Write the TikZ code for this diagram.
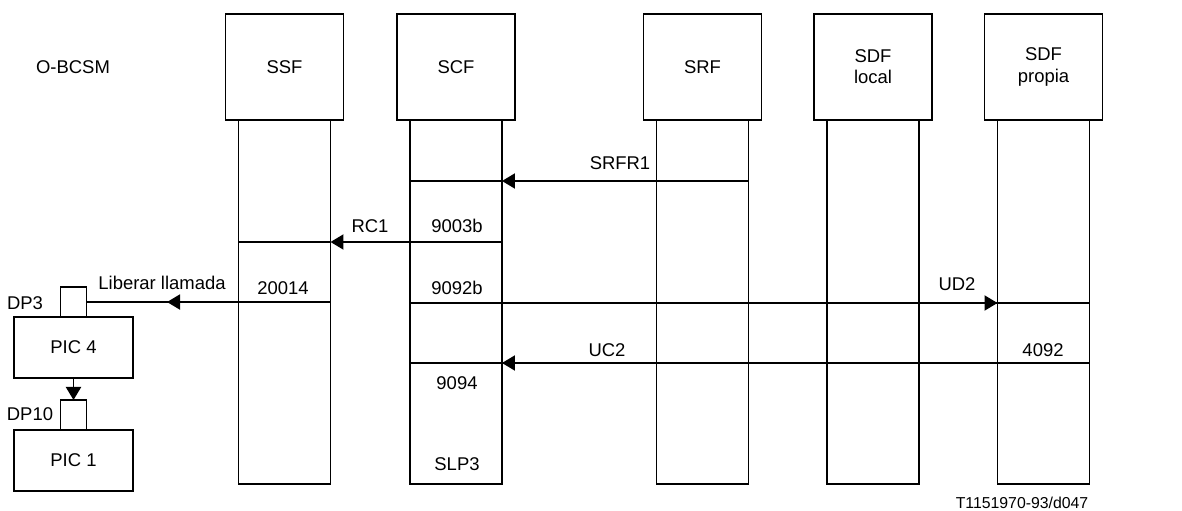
\documentclass[tikz,border=0pt]{standalone}
\usepackage{fontspec}
\setmainfont{Liberation Sans}
\usetikzlibrary{arrows.meta, positioning, calc}

\tikzset{
  head/.style={draw, line width=0.6pt, minimum width=2.36cm, minimum height=2.12cm,
    align=center, font=\fontsize{10.5}{12}\selectfont},
  life/.style={minimum width=1.84cm, minimum height=7.28cm, outer sep=0pt, inner sep=0pt},
  picbox/.style={draw, line width=0.6pt, minimum width=2.38cm, minimum height=1.22cm,
    outer sep=0pt, font=\fontsize{10.5}{12}\selectfont},
  dpbox/.style={draw, line width=0.6pt, minimum width=0.52cm, minimum height=0.6cm, outer sep=0pt},
  sep/.style={line width=1.1pt},
  msg/.style={line width=1.1pt, -{Triangle[length=2.6mm,width=3mm]}},
  lbl/.style={font=\fontsize{10.5}{12}\selectfont, inner sep=0pt},
}

\begin{document}
\begin{tikzpicture}[x=0.02cm, y=-0.02cm]
  \useasboundingbox (0,0) rectangle (1182,510);

  %% entity heads
  \node[lbl] (obcsm) at (73,67) {O-BCSM};
  \node[head] (ssf)   at (284.5,67)  {SSF};
  \node[head] (scf)   at (456,67)    {SCF};
  \node[head] (srf)   at (702.5,67)  {SRF};
  \node[head] (sdfl)  at (873,67)    {SDF\\local};
  \node[head] (sdfp)  at (1043.5,67) {SDF\\propia};

  %% life columns
  \foreach \h in {ssf, scf, srf, sdfl, sdfp} {
    \node[life, below=0pt of \h] (\h c) {};
    \draw[sep] (\h c.north west) -- (\h c.south west) -- (\h c.south east) -- (\h c.north east);
  }

  %% message levels
  \coordinate (lv1) at (0,181);
  \coordinate (lv2) at (0,242);
  \coordinate (lv3) at (0,303);
  \coordinate (lv4) at (0,363);

  %% O-BCSM points in call
  \node[picbox] (pic4) at (73.5,347.5) {PIC 4};
  \node[dpbox, above=0pt of pic4] (dp3) {};
  \node[dpbox, below=0.44cm of pic4] (dp10) {};
  \node[picbox, below=0pt of dp10] (pic1) {PIC 1};
  \node[lbl] (dp3l)  at (25,303) {DP3};
  \node[lbl] (dp10l) at (30,414) {DP10};
  \draw[msg] (pic4.south) -- (dp10.north);

  %% SRFR1
  \draw[sep] (scfc.west |- lv1) -- (scfc.east |- lv1);
  \draw[msg] (srfc.east |- lv1) -- (scfc.east |- lv1);
  \node[lbl] (srfr) at (620,163) {SRFR1};

  %% RC1
  \draw[sep] (ssfc.west |- lv2) -- (ssfc.east |- lv2);
  \draw[msg] (scfc.east |- lv2) -- (ssfc.east |- lv2);
  \node[lbl] (rc) at (370,226) {RC1};
  \node[lbl] (n9003) at (457,226) {9003b};

  %% Liberar llamada
  \draw[sep] (dp3.east) -- (ssfc.east |- dp3.east);
  \draw[msg] (ssfc.east |- dp3.east) -- ($(dp3.east)!0.33!(ssfc.east |- dp3.east)$);
  \node[lbl] (lib) at (162,283) {Liberar llamada};
  \node[lbl] (n20014) at (283,288) {20014};

  %% UD2
  \draw[sep] (scfc.west |- lv3) -- (sdfpc.east |- lv3);
  \draw[msg] (scfc.west |- lv3) -- (sdfpc.west |- lv3);
  \node[lbl] (n9092) at (457,288) {9092b};
  \node[lbl] (ud) at (957,284) {UD2};

  %% UC2
  \draw[sep] (sdfpc.east |- lv4) -- (scfc.west |- lv4);
  \draw[msg] (sdfpc.east |- lv4) -- (scfc.east |- lv4);
  \node[lbl] (uc) at (607,350) {UC2};
  \node[lbl] (n4092) at (1043,350) {4092};

  \node[lbl] (n9094) at (457,383) {9094};
  \node[lbl] (slp) at (457,464) {SLP3};

  \node[font=\fontsize{9}{10}\selectfont, inner sep=0pt] (ref) at (1022,503) {T1151970-93/d047};
\end{tikzpicture}
\end{document}
